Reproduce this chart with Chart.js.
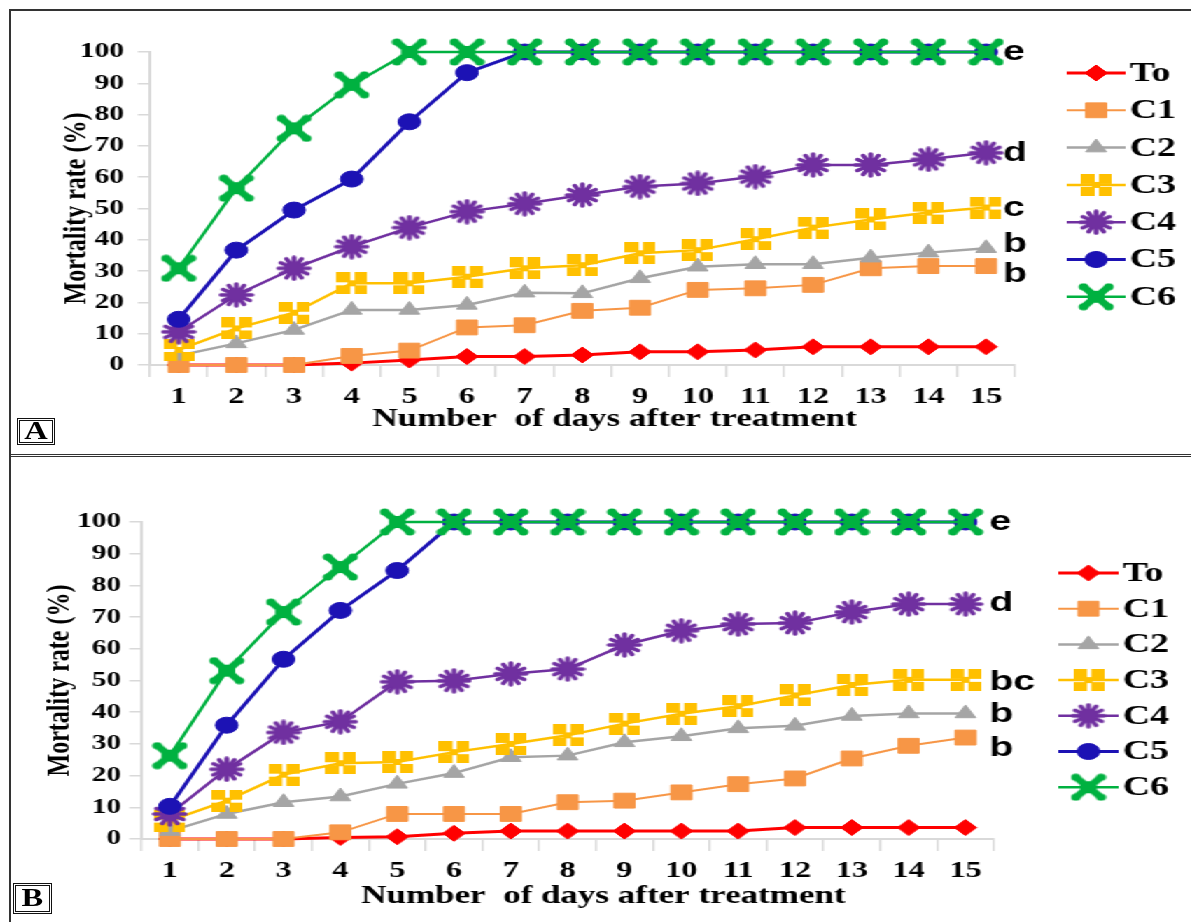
<!DOCTYPE html>
<html>
<head>
<meta charset="utf-8">
<script src="https://cdn.jsdelivr.net/npm/chart.js@4.4.0/dist/chart.umd.min.js"></script>
<style>
  body { margin: 0; background: #fff; width: 1191px; height: 922px; overflow: hidden; position: relative; }
  #stretch { position: absolute; left: 0; top: 0; width: 851px; height: 922px; transform: scaleX(1.4); transform-origin: 0 0; }
  #chartA { position: absolute; left: 0; top: 0; }
  #chartB { position: absolute; left: 0; top: 455px; }
  .line { position: absolute; background: #333; }
  .tag { position: absolute; box-sizing: border-box; border: 3px double #111; font: bold 25px 'Liberation Serif', serif; text-align: center; line-height: 20px; }
  .tag span { display: inline-block; transform: scaleX(1.3); }
</style>
</head>
<body>
<div id="stretch">
  <canvas id="chartA" width="851" height="455"></canvas>
  <canvas id="chartB" width="851" height="467"></canvas>
</div>
<div class="line" style="left:9px;top:9px;width:1182px;height:2px"></div>
<div class="line" style="left:9px;top:9px;width:2px;height:913px"></div>
<div class="line" style="left:9px;top:454px;width:1182px;height:3px;background:none;border-top:3px double #333;height:0"></div>
<div class="tag" style="left:17px;top:418px;width:38px;height:27px"><span>A</span></div>
<div class="tag" style="left:13px;top:883px;width:39px;height:31px;line-height:24px"><span>B</span></div>
<script>
const days = ['1', '2', '3', '4', '5', '6', '7', '8', '9', '10', '11', '12', '13', '14', '15'];
const seriesNames = ['To', 'C1', 'C2', 'C3', 'C4', 'C5', 'C6'];

// panel A
const aTo = [0, 0, 0, 0.6, 1.6, 2.7, 2.7, 3.2, 4.2, 4.2, 4.8, 5.8, 5.8, 5.8, 5.8];
const aC1 = [0, 0, 0, 2.9, 4.6, 12, 12.7, 17.3, 18.3, 24, 24.5, 25.6, 30.9, 31.6, 31.6];
const aC2 = [3, 6.9, 11.2, 17.6, 17.6, 19.2, 23.1, 22.9, 27.7, 31.4, 32.2, 32.2, 34.3, 35.9, 37.3];
const aC3 = [4.8, 11.7, 16.7, 26.1, 26.1, 28.2, 30.9, 31.9, 35.7, 36.7, 40.2, 43.9, 46.5, 48.7, 50.3];
const aC4 = [10.6, 22.4, 30.9, 37.8, 43.9, 49, 51.5, 54.3, 57, 58, 60.2, 63.9, 63.9, 65.7, 67.8];
const aC5 = [14.6, 36.7, 49.5, 59.4, 77.7, 93.4, 100, 100, 100, 100, 100, 100, 100, 100, 100];
const aC6 = [30.9, 56.5, 75.6, 89.5, 100, 100, 100, 100, 100, 100, 100, 100, 100, 100, 100];
const aLetters = ['e', 'd', 'c', 'b', 'b'];
const aLetterVals = [100, 67.8, 50, 38.5, 29];

// panel B
const bTo = [0, 0, 0, 0.5, 0.7, 1.8, 2.5, 2.5, 2.5, 2.5, 2.5, 3.6, 3.6, 3.6, 3.6];
const bC1 = [0, 0, 0, 2.1, 7.9, 7.9, 7.9, 11.6, 12.1, 14.7, 17.3, 19.1, 25.4, 29.4, 32];
const bC2 = [2.5, 7.9, 11.6, 13.4, 17.4, 20.8, 25.8, 26.3, 30.5, 32.4, 34.9, 35.7, 38.8, 39.6, 39.6];
const bC3 = [5.8, 12.1, 20.3, 23.9, 24.3, 27.4, 30, 32.7, 36.4, 39.5, 41.9, 45.3, 48.6, 50.2, 50.2];
const bC4 = [7.9, 22, 33.6, 37, 49.6, 49.9, 52.1, 53.6, 61.2, 65.7, 67.8, 68.1, 71.6, 74.1, 74.1];
const bC5 = [10.3, 35.9, 56.7, 72.1, 84.7, 100, 100, 100, 100, 100, 100, 100, 100, 100, 100];
const bC6 = [26.3, 53.1, 71.6, 85.8, 100, 100, 100, 100, 100, 100, 100, 100, 100, 100, 100];
const bLetters = ['e', 'd', 'bc', 'b', 'b'];
const bLetterVals = [100, 74.5, 49.5, 39.5, 28.5];

const colors = ['#FF0000', '#F79646', '#A5A5A5', '#FFC000', '#7030A0', '#1C12B4', '#00B140'];
const lineWidths = [3, 2, 2.5, 2.5, 2.5, 3, 2.5];

// custom marker shapes
function mkMarker(w, h, draw) {
  const c = document.createElement('canvas');
  c.width = w; c.height = h;
  draw(c.getContext('2d'), w, h);
  return c;
}
const crossSquare = mkMarker(22, 22, (g, w, h) => {
  g.fillStyle = colors[3];
  g.fillRect(0, 0, w, h);
  g.clearRect(9.5, 0, 3, h);
  g.clearRect(0, 9.5, w, 3);
  g.fillRect(8, 8, 6, 6);
});
const burst = mkMarker(26, 26, (g, w, h) => {
  g.strokeStyle = colors[4];
  g.fillStyle = colors[4];
  g.lineWidth = 3.5;
  g.lineCap = 'round';
  for (let k = 0; k < 12; k++) {
    const a = k * Math.PI / 6;
    g.beginPath();
    g.moveTo(w / 2, h / 2);
    g.lineTo(w / 2 + Math.cos(a) * 11, h / 2 + Math.sin(a) * 11);
    g.stroke();
  }
  g.beginPath();
  g.arc(w / 2, h / 2, 7, 0, Math.PI * 2);
  g.fill();
});
const bigX = mkMarker(26, 28, (g, w, h) => {
  g.strokeStyle = colors[6];
  g.fillStyle = colors[6];
  g.lineWidth = 6;
  g.beginPath();
  g.moveTo(4, 4); g.lineTo(w - 4, h - 4);
  g.moveTo(w - 4, 4); g.lineTo(4, h - 4);
  g.stroke();
  g.fillRect(7, 8, w - 14, h - 16);
  [[4, 4], [w - 4, 4], [4, h - 4], [w - 4, h - 4]].forEach(p => {
    g.beginPath(); g.arc(p[0], p[1], 3.5, 0, Math.PI * 2); g.fill();
  });
});
const pointStyles = ['rectRot', 'rect', 'triangle', crossSquare, burst, 'circle', bigX];
const pointRadii = [8, 10.5, 8.5, 10, 10, 8, 10];

Chart.defaults.font.family = "'Liberation Serif', 'Times New Roman', serif";
Chart.defaults.color = '#000';

const decorPlugin = {
  id: 'decor',
  afterDraw(chart) {
    const cfg = chart.options.plugins.decor;
    const ctx = chart.ctx;
    const xs = chart.scales.x, ys = chart.scales.y;
    ctx.save();
    // x axis title
    ctx.fillStyle = '#000';
    ctx.font = "bold 25px 'Liberation Serif', serif";
    ctx.textAlign = 'center';
    ctx.textBaseline = 'middle';
    ctx.fillText('Number  of days after treatment', cfg.xTitleX, cfg.xTitleY);
    // significance letters
    ctx.font = "bold 28px 'Liberation Sans', Arial, sans-serif";
    ctx.textAlign = 'left';
    const lx = xs.getPixelForValue(days.length - 1) + cfg.letterDx;
    cfg.letters.forEach((t, i) => ctx.fillText(t, lx, ys.getPixelForValue(cfg.letterVals[i])));
    // legend
    chart.data.datasets.forEach((ds, i) => {
      const y = cfg.legY + i * cfg.legStep;
      ctx.strokeStyle = ds.borderColor;
      ctx.lineWidth = ds.borderWidth;
      ctx.beginPath();
      ctx.moveTo(cfg.legX1, y);
      ctx.lineTo(cfg.legX2, y);
      ctx.stroke();
      ctx.fillStyle = ds.backgroundColor;
      ctx.lineWidth = 1;
      Chart.helpers.drawPoint(ctx, { pointStyle: ds.pointStyle, radius: ds.pointRadius, rotation: 0, borderWidth: 1 },
        (cfg.legX1 + cfg.legX2) / 2, y);
      ctx.fillStyle = '#000';
      ctx.font = "bold 27px 'Liberation Serif', serif";
      ctx.textAlign = 'left';
      ctx.fillText(ds.label, cfg.legX2 + 3, y + 1);
    });
    ctx.restore();
  }
};

function buildDatasets(series) {
  return series.map((vals, i) => ({
    label: seriesNames[i],
    data: vals,
    borderColor: colors[i],
    backgroundColor: colors[i],
    pointBackgroundColor: colors[i],
    pointBorderColor: colors[i],
    pointBorderWidth: 1,
    borderWidth: lineWidths[i],
    pointStyle: pointStyles[i],
    pointRadius: pointRadii[i],
    tension: 0,
    clip: false,
    order: series.length - i
  }));
}

function makeChart(id, series, cfg) {
  return new Chart(document.getElementById(id), {
    type: 'line',
    data: { labels: days, datasets: buildDatasets(series) },
    options: {
      responsive: false,
      animation: false,
      layout: { padding: { top: cfg.padTop, right: cfg.padRight, left: 0, bottom: 0 } },
      plugins: {
        legend: { display: false },
        tooltip: { enabled: false },
        decor: cfg
      },
      scales: {
        x: {
          offset: true,
          grid: { offset: true, drawOnChartArea: false, tickLength: 12, color: '#D9D9D9', lineWidth: 1.5 },
          border: { color: '#D9D9D9', width: 2 },
          ticks: { font: { size: 23, weight: 'bold' }, padding: 6, maxRotation: 0, autoSkip: false },
          afterFit(scale) { scale.height = cfg.xHeight; }
        },
        y: {
          min: 0,
          max: 100,
          ticks: { stepSize: 10, font: { size: 21, weight: 'bold' }, padding: cfg.yTickPad },
          grid: { drawOnChartArea: false, tickLength: 8.6, color: '#D9D9D9', lineWidth: 1.5 },
          border: { color: '#D9D9D9', width: 2 },
          title: { display: true, text: 'Mortality rate (%)', font: { size: 24, weight: 'bold' }, padding: { top: cfg.yTitlePad, bottom: 0 } },
          afterFit(scale) { scale.width = cfg.yWidth; }
        }
      }
    },
    plugins: [decorPlugin]
  });
}

makeChart('chartA', [aTo, aC1, aC2, aC3, aC4, aC5, aC6], {
  padTop: 52, padRight: 126, xHeight: 90, yWidth: 107, yTickPad: 10, yTitlePad: 40,
  xTitleX: 439, xTitleY: 420, letterDx: 12, letters: aLetters, letterVals: aLetterVals,
  legX1: 762, legX2: 804, legY: 73, legStep: 37.3
});
makeChart('chartB', [bTo, bC1, bC2, bC3, bC4, bC5, bC6], {
  padTop: 67, padRight: 141, xHeight: 83, yWidth: 101, yTickPad: 6, yTitlePad: 28,
  xTitleX: 431, xTitleY: 442, letterDx: 17, letters: bLetters, letterVals: bLetterVals,
  legX1: 756, legX2: 799, legY: 118, legStep: 35.7
});
</script>
</body>
</html>
